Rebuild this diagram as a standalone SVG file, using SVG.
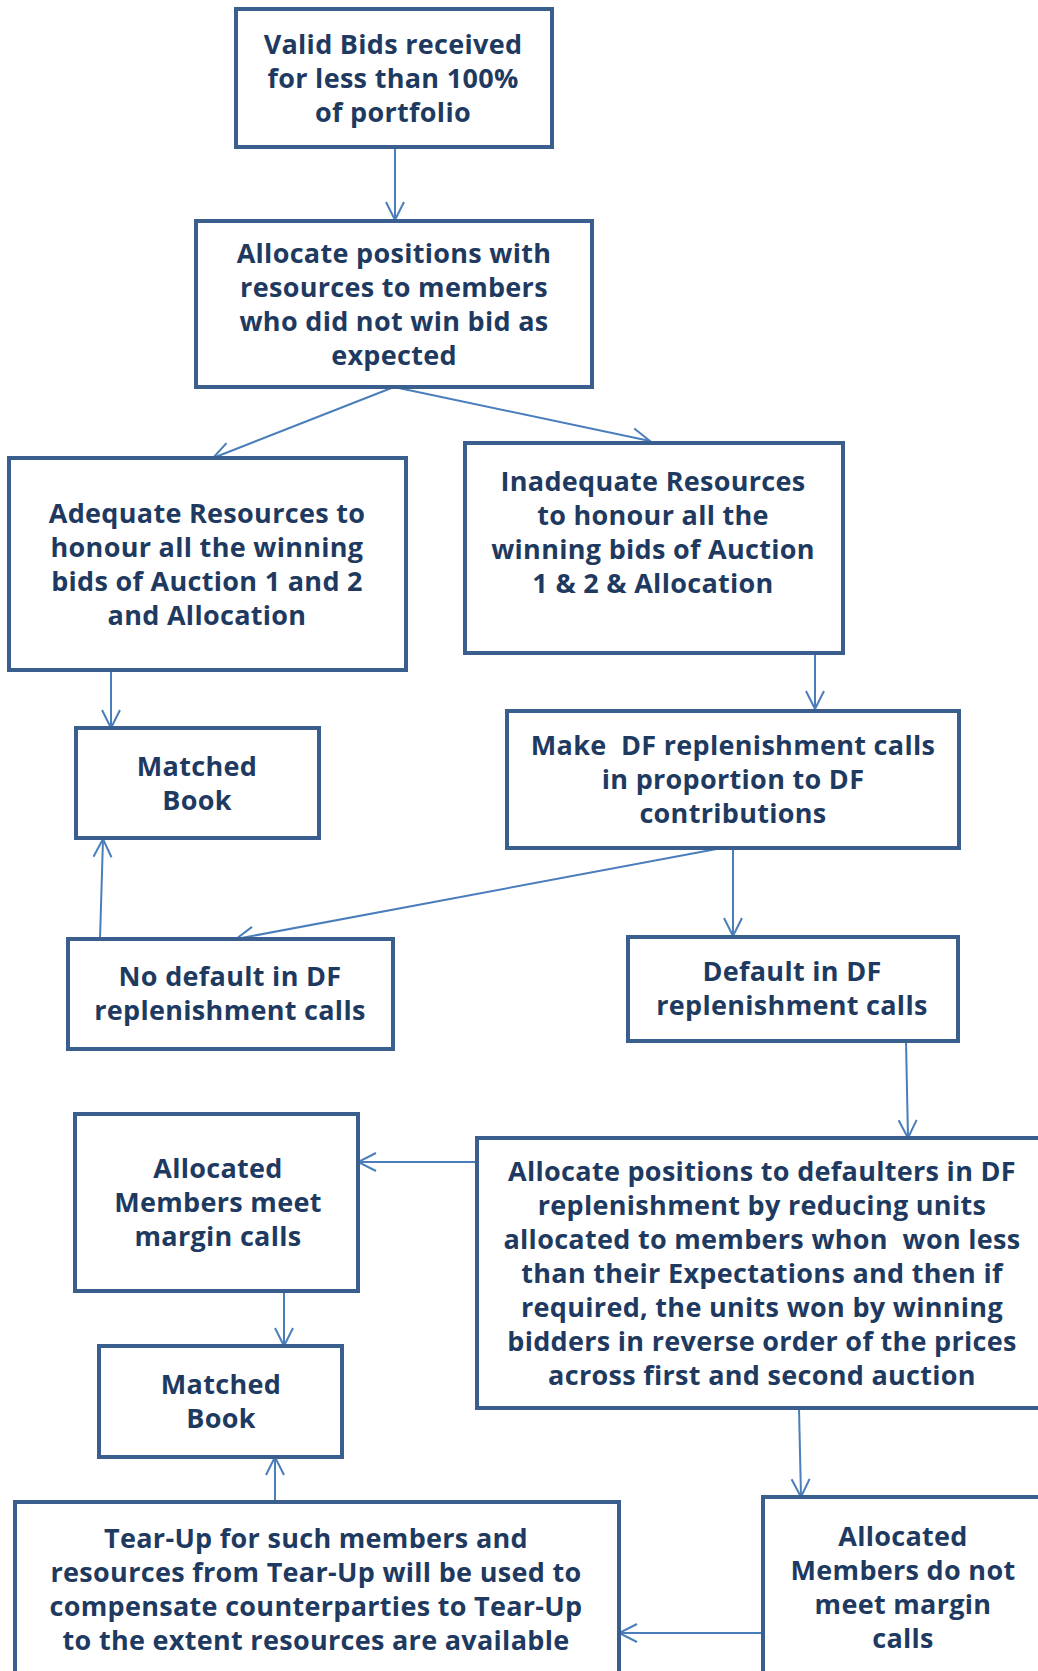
<svg xmlns="http://www.w3.org/2000/svg" width="1038" height="1671" viewBox="0 0 1038 1671">
<defs>
<style>
.box{fill:#ffffff;stroke:#3A5F8F;stroke-width:4}
.t{font-family:"Open Sans","Liberation Sans",sans-serif;font-weight:bold;font-size:27px;letter-spacing:0.3px;fill:#1F3A60;text-anchor:middle}
.c{fill:none;stroke:#4A7EBB;stroke-width:2}
</style>
<marker id="ah" viewBox="0 0 22 22" refX="20" refY="11" markerWidth="22" markerHeight="22" markerUnits="userSpaceOnUse" orient="auto">
<path d="M2,2 L20,11 L2,20" fill="none" stroke="#4A7EBB" stroke-width="2"/>
</marker>
</defs>
<rect width="1038" height="1671" fill="#ffffff"/>
<g id="connectors">
<line class="c" x1="395" y1="147" x2="395" y2="220" marker-end="url(#ah)"/>
<line class="c" x1="394" y1="387" x2="213" y2="458" marker-end="url(#ah)"/>
<line class="c" x1="394" y1="387" x2="650" y2="441" marker-end="url(#ah)"/>
<line class="c" x1="111" y1="670" x2="111" y2="728" marker-end="url(#ah)"/>
<line class="c" x1="815" y1="653" x2="815" y2="709" marker-end="url(#ah)"/>
<line class="c" x1="722" y1="848" x2="236" y2="939" marker-end="url(#ah)"/>
<line class="c" x1="733" y1="848" x2="733" y2="936" marker-end="url(#ah)"/>
<line class="c" x1="100" y1="939" x2="103" y2="839" marker-end="url(#ah)"/>
<line class="c" x1="906" y1="1041" x2="908" y2="1138" marker-end="url(#ah)"/>
<line class="c" x1="477" y1="1162" x2="358" y2="1162" marker-end="url(#ah)"/>
<line class="c" x1="284" y1="1291" x2="284" y2="1346" marker-end="url(#ah)"/>
<line class="c" x1="799" y1="1408" x2="801" y2="1497" marker-end="url(#ah)"/>
<line class="c" x1="763" y1="1633" x2="619" y2="1633" marker-end="url(#ah)"/>
<line class="c" x1="275" y1="1502" x2="275" y2="1457" marker-end="url(#ah)"/>
</g>
<g id="n1"><rect class="box" x="236" y="9" width="316" height="138"/>
<text class="t" x="393" y="54">Valid Bids received</text><text class="t" x="393" y="88">for less than 100%</text><text class="t" x="393" y="122">of portfolio</text></g>
<g id="n2"><rect class="box" x="196" y="221" width="396" height="166"/>
<text class="t" x="394" y="263">Allocate positions with</text><text class="t" x="394" y="297">resources to members</text><text class="t" x="394" y="331">who did not win bid as</text><text class="t" x="394" y="365">expected</text></g>
<g id="n3"><rect class="box" x="9" y="458" width="397" height="212"/>
<text class="t" x="207" y="523">Adequate Resources to</text><text class="t" x="207" y="557">honour all the winning</text><text class="t" x="207" y="591">bids of Auction 1 and 2</text><text class="t" x="207" y="625">and Allocation</text></g>
<g id="n4"><rect class="box" x="465" y="443" width="378" height="210"/>
<text class="t" x="653" y="491">Inadequate Resources</text><text class="t" x="653" y="525">to honour all the</text><text class="t" x="653" y="559">winning bids of Auction</text><text class="t" x="653" y="593">1 &amp; 2 &amp; Allocation</text></g>
<g id="n5"><rect class="box" x="76" y="728" width="243" height="110"/>
<text class="t" x="197" y="776">Matched</text><text class="t" x="197" y="810">Book</text></g>
<g id="n6"><rect class="box" x="507" y="711" width="452" height="137"/>
<text class="t" x="733" y="755" xml:space="preserve">Make  DF replenishment calls</text><text class="t" x="733" y="789">in proportion to DF</text><text class="t" x="733" y="823">contributions</text></g>
<g id="n7"><rect class="box" x="68" y="939" width="325" height="110"/>
<text class="t" x="230" y="986">No default in DF</text><text class="t" x="230" y="1020">replenishment calls</text></g>
<g id="n8"><rect class="box" x="628" y="937" width="330" height="104"/>
<text class="t" x="792" y="981">Default in DF</text><text class="t" x="792" y="1015">replenishment calls</text></g>
<g id="n9"><rect class="box" x="75" y="1114" width="283" height="177"/>
<text class="t" x="218" y="1178">Allocated</text><text class="t" x="218" y="1212">Members meet</text><text class="t" x="218" y="1246">margin calls</text></g>
<g id="n10"><rect class="box" x="477" y="1138" width="580" height="270"/>
<text class="t" x="762" y="1181">Allocate positions to defaulters in DF</text><text class="t" x="762" y="1215">replenishment by reducing units</text><text class="t" x="762" y="1249" xml:space="preserve">allocated to members whon  won less</text><text class="t" x="762" y="1283">than their Expectations and then if</text><text class="t" x="762" y="1317">required, the units won by winning</text><text class="t" x="762" y="1351">bidders in reverse order of the prices</text><text class="t" x="762" y="1385">across first and second auction</text></g>
<g id="n11"><rect class="box" x="99" y="1346" width="243" height="111"/>
<text class="t" x="221" y="1394">Matched</text><text class="t" x="221" y="1428">Book</text></g>
<g id="n12"><rect class="box" x="15" y="1502" width="604" height="200"/>
<text class="t" x="316" y="1548">Tear-Up for such members and</text><text class="t" x="316" y="1582">resources from Tear-Up will be used to</text><text class="t" x="316" y="1616">compensate counterparties to Tear-Up</text><text class="t" x="316" y="1650">to the extent resources are available</text></g>
<g id="n13"><rect class="box" x="763" y="1497" width="300" height="200"/>
<text class="t" x="903" y="1546">Allocated</text><text class="t" x="903" y="1580">Members do not</text><text class="t" x="903" y="1614">meet margin</text><text class="t" x="903" y="1648">calls</text></g>
</svg>
